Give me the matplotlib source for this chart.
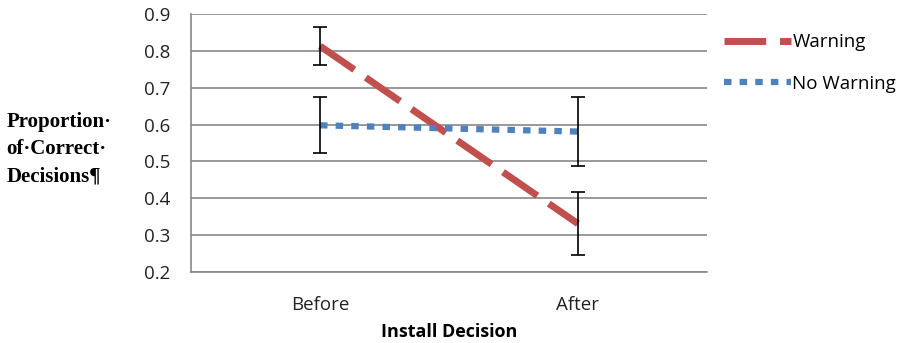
import matplotlib.pyplot as plt

categories = ['Before', 'After']
warning = [0.813, 0.331]
warning_err = [0.052, 0.085]
no_warning = [0.598, 0.581]
no_warning_err = [0.076, 0.094]
yticks = [0.2, 0.3, 0.4, 0.5, 0.6, 0.7, 0.8, 0.9]

fig = plt.figure(figsize=(9.02, 3.43), dpi=100)
ax = fig.add_axes([191 / 902, 1 - 272 / 343, 516 / 902, 258 / 343])

x = range(len(categories))
ax.plot(x, warning, color='#C0504D', lw=5, dashes=(6, 2), label='Warning', zorder=3)
ax.plot(x, no_warning, color='#4F81BD', lw=4.5, dashes=(1.2, 1.3), label='No Warning', zorder=3)
ax.errorbar(x, warning, yerr=warning_err, fmt='none', ecolor='black', elinewidth=1.2, capsize=5, capthick=1.2, zorder=4)
ax.errorbar(x, no_warning, yerr=no_warning_err, fmt='none', ecolor='black', elinewidth=1.2, capsize=5, capthick=1.2, zorder=4)

ax.set_xlim(-0.5, 1.5)
ax.set_ylim(0.2, 0.9)
ax.set_yticks(yticks)
ax.set_yticklabels(['%.1f' % t for t in yticks])
ax.set_xticks(list(x))
ax.set_xticklabels(categories)
ax.yaxis.grid(True, color='#888888', lw=1.2)
ax.set_axisbelow(True)
for s in ['top', 'right']:
    ax.spines[s].set_visible(False)
ax.spines['left'].set_color('#888888')
ax.spines['bottom'].set_color('#888888')
ax.spines['left'].set_linewidth(1.2)
ax.spines['bottom'].set_linewidth(1.2)
ax.tick_params(axis='both', length=0, labelsize=13.5, colors='#222222')
ax.tick_params(axis='y', pad=15)
ax.tick_params(axis='x', pad=17)
for lab in ax.get_xticklabels() + ax.get_yticklabels():
    lab.set_family('Open Sans')

ax.set_xlabel('Install Decision', fontsize=13, fontweight='bold', family='Open Sans', labelpad=7)

fig.text(0.007, 0.565, 'Proportion·\nof·Correct·\nDecisions¶', family='Liberation Serif',
         fontsize=15, fontweight='bold', va='center', ha='left', linespacing=1.5)

leg = ax.legend(loc='upper left', bbox_to_anchor=(1.0, 0.99), frameon=False,
                fontsize=13.5, handlelength=3.6, handletextpad=0.05, labelspacing=1.25)
for t in leg.get_texts():
    t.set_family('Open Sans')

fig.savefig('out.png', dpi=100)
